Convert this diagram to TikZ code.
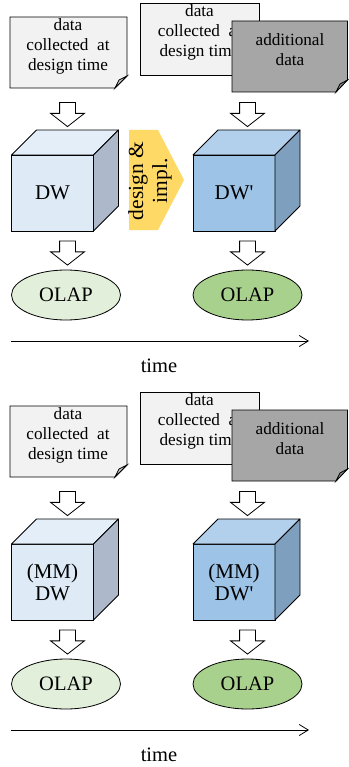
\documentclass[tikz,border=0pt]{standalone}
\usepackage{fontspec}
\setmainfont{Liberation Serif}
\usetikzlibrary{shapes.geometric,shapes.arrows,arrows.meta}

\definecolor{docgray}{HTML}{F2F2F2}
\definecolor{docdark}{HTML}{A6A6A6}
\definecolor{foldlight}{HTML}{C8C8C8}
\definecolor{folddark}{HTML}{8C8C8C}
\definecolor{cubeAfront}{HTML}{DEEBF7}
\definecolor{cubeAtop}{HTML}{E4EEF9}
\definecolor{cubeAside}{HTML}{ADB9CA}
\definecolor{cubeBfront}{HTML}{9DC3E6}
\definecolor{cubeBtop}{HTML}{B2CFEC}
\definecolor{cubeBside}{HTML}{7F9FBF}
\definecolor{olapA}{HTML}{E2EFDA}
\definecolor{olapB}{HTML}{A9D18E}
\definecolor{chevron}{HTML}{FFD966}

\tikzset{
  docbox/.style={draw,line width=0.8pt},
  doctext/.style={align=center,inner sep=0pt,font=\fontsize{17.2}{20}\selectfont},
  front/.style={draw,line width=0.8pt,outer sep=0pt,minimum width=82pt,minimum height=76pt,
    align=center,font=\fontsize{21}{22}\selectfont},
  face/.style={draw,line width=0.8pt,line join=round},
  downarrow/.style={single arrow,draw,fill=white,line width=0.8pt,rotate=-90,
    minimum height=24pt,inner xsep=0pt,inner ysep=7.5pt,
    single arrow head extend=9pt,single arrow tip angle=104},
  olap/.style={ellipse,draw,line width=0.8pt,minimum width=109pt,minimum height=50pt,
    font=\fontsize{20.5}{22}\selectfont},
  bigtext/.style={font=\fontsize{20.5}{22}\selectfont}
}

\begin{document}
\begin{tikzpicture}[x=1pt,y=-1pt]
\useasboundingbox (0,0) rectangle (348,767);

% upper panel
\draw[docbox,fill=docgray] (10,17) -- (127,17) -- (127,76) -- (115,88) -- (10,88) -- cycle;
\draw[docbox,fill=foldlight] (127,76) -- (115,88) -- (119,80) -- cycle;
\node[doctext] (dat1) at (68,46) {data\\collected\ \ at\\design time};

\draw[docbox,fill=docgray] (140,3) rectangle (259,75);
\node[doctext] (dat2) at (199.5,32) {data\\collected\ \ at\\design time};
\draw[docbox,fill=docdark] (232,21) -- (347.5,21) -- (347.5,80) -- (336,92) -- (232,92) -- cycle;
\draw[docbox,fill=folddark] (347.5,80) -- (336,92) -- (340,84) -- cycle;
\node[doctext] (add1) at (290,50) {additional\\data};

\node[downarrow] (a1) at (67.5,111.5) {};
\node[downarrow] (a2) at (247.5,111.5) {};

\node[front,fill=cubeAfront] (dw1) at (52.5,193) {DW};
\draw[face,fill=cubeAtop] (dw1.north west) -- ++(25,-25) -- ++(82,0) -- (dw1.north east) -- cycle;
\draw[face,fill=cubeAside] (dw1.north east) -- ++(25,-25) -- ++(0,76) -- (dw1.south east) -- cycle;

\fill[chevron] (129,130) -- (158,130) -- (184,180) -- (158,230) -- (129,230) -- cycle;
\node[rotate=90,align=center,font=\fontsize{21.5}{24}\selectfont] (impl) at (150,181) {design \&\\impl.};

\node[front,fill=cubeBfront] (dw2) at (234,193) {DW\textquotesingle};
\draw[face,fill=cubeBtop] (dw2.north west) -- ++(25,-25) -- ++(82,0) -- (dw2.north east) -- cycle;
\draw[face,fill=cubeBside] (dw2.north east) -- ++(25,-25) -- ++(0,76) -- (dw2.south east) -- cycle;

\node[downarrow] (a3) at (67.5,250) {};
\node[downarrow] (a4) at (247.5,250) {};

\node[olap,fill=olapA] (olap1) at (66,295) {OLAP};
\node[olap,fill=olapB] (olap2) at (247.5,295) {OLAP};

\coordinate (t0) at (11,341);
\coordinate (t1) at (309,341);
\draw[line width=0.8pt,-{Straight Barb[length=9pt,width=11pt]}] (t0) -- (t1);
\node[bigtext] (time1) at (159,366) {time};

% lower panel
\begin{scope}[shift={(0,389)}]
\draw[docbox,fill=docgray] (10,17) -- (127,17) -- (127,76) -- (115,88) -- (10,88) -- cycle;
\draw[docbox,fill=foldlight] (127,76) -- (115,88) -- (119,80) -- cycle;
\node[doctext] (mdat1) at (68,46) {data\\collected\ \ at\\design time};

\draw[docbox,fill=docgray] (140,3) rectangle (259,75);
\node[doctext] (mdat2) at (199.5,32) {data\\collected\ \ at\\design time};
\draw[docbox,fill=docdark] (232,21) -- (347.5,21) -- (347.5,80) -- (336,92) -- (232,92) -- cycle;
\draw[docbox,fill=folddark] (347.5,80) -- (336,92) -- (340,84) -- cycle;
\node[doctext] (madd1) at (290,50) {additional\\data};

\node[downarrow] (ma1) at (67.5,111.5) {};
\node[downarrow] (ma2) at (247.5,111.5) {};

\node[front,fill=cubeAfront] (mdw1) at (52.5,193) {(MM)\\DW};
\draw[face,fill=cubeAtop] (mdw1.north west) -- ++(25,-25) -- ++(82,0) -- (mdw1.north east) -- cycle;
\draw[face,fill=cubeAside] (mdw1.north east) -- ++(25,-25) -- ++(0,76) -- (mdw1.south east) -- cycle;

\node[front,fill=cubeBfront] (mdw2) at (234,193) {(MM)\\DW\textquotesingle};
\draw[face,fill=cubeBtop] (mdw2.north west) -- ++(25,-25) -- ++(82,0) -- (mdw2.north east) -- cycle;
\draw[face,fill=cubeBside] (mdw2.north east) -- ++(25,-25) -- ++(0,76) -- (mdw2.south east) -- cycle;

\node[downarrow] (ma3) at (67.5,250) {};
\node[downarrow] (ma4) at (247.5,250) {};

\node[olap,fill=olapA] (molap1) at (66,295) {OLAP};
\node[olap,fill=olapB] (molap2) at (247.5,295) {OLAP};

\coordinate (mt0) at (11,341);
\coordinate (mt1) at (309,341);
\draw[line width=0.8pt,-{Straight Barb[length=9pt,width=11pt]}] (mt0) -- (mt1);
\node[bigtext] (time2) at (159,366) {time};
\end{scope}
\end{tikzpicture}
\end{document}
